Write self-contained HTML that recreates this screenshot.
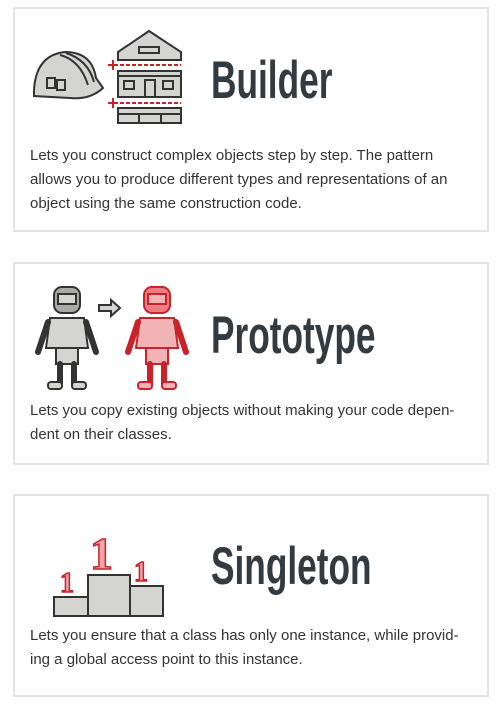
<!DOCTYPE html>
<html><head><meta charset="utf-8"><style>
body{margin:0;width:500px;height:703px;background:#fff;position:relative;overflow:hidden;font-family:"Liberation Sans",sans-serif}
.card{position:absolute;left:13px;width:472px;border:2px solid #e3e3e3;background:#fff}
.t{position:absolute;left:211px;font-weight:bold;font-size:53px;color:#333a40;transform:scaleX(0.665);transform-origin:0 0;line-height:53px;white-space:nowrap}
.p{position:absolute;left:30px;font-size:15px;color:#333;line-height:24px;white-space:nowrap}
svg{position:absolute;left:0;top:0}
</style></head><body>
<div class="card" style="top:7px;height:221px"></div>
<div class="card" style="top:262px;height:199px"></div>
<div class="card" style="top:494px;height:199px"></div>

<svg width="500" height="703" stroke="#333" stroke-width="2" fill="#d4d5d0">
<!-- helmet -->
<path d="M34 90 Q36 55 65 52 Q92 52 96 78 L103 88 Q90 100 70 98 L34 96 Z"/>
<path d="M60 55 Q80 60 88 85" fill="none"/><path d="M66 53 Q88 60 94 82" fill="none"/>
<rect x="47" y="78" width="8" height="10" fill="none"/><rect x="57" y="80" width="8" height="10" fill="none"/>
<!-- house -->
<path d="M118 52 L149 31 L181 52 L181 60 L118 60 Z"/>
<rect x="139" y="47" width="20" height="6" fill="none"/>
<line x1="120" y1="65" x2="181" y2="65" stroke="#c8222b" stroke-dasharray="4,2"/>
<rect x="118" y="71" width="63" height="26"/>
<line x1="118" y1="76" x2="181" y2="76"/>
<rect x="124" y="81" width="10" height="8" fill="none"/><rect x="163" y="81" width="10" height="8" fill="none"/>
<rect x="145" y="80" width="10" height="17" fill="none"/>
<line x1="120" y1="103" x2="181" y2="103" stroke="#c8222b" stroke-dasharray="4,2"/>
<path d="M108 65 h10 M113 60 v10 M108 103 h10 M113 98 v10" stroke="#c8222b"/>
<rect x="118" y="108" width="63" height="15"/><line x1="118" y1="114" x2="181" y2="114"/>
<rect x="139" y="114" width="22" height="9" fill="none"/>
<!-- robots -->
<g>
<rect x="54" y="287" width="26" height="26" rx="8" fill="#a8aaa6"/><rect x="58" y="294" width="18" height="10" fill="#d4d5d0"/>
<path d="M50 318 h34 l4 30 h-42 z"/><rect x="56" y="348" width="22" height="16"/>
<path d="M48 322 l-10 30 M86 322 l10 30" stroke-width="6" stroke-linecap="round"/>
<path d="M60 364 v22 M74 364 v22" stroke-width="6" stroke-linecap="round"/>
<rect x="48" y="382" width="14" height="7" rx="3"/><rect x="72" y="382" width="14" height="7" rx="3"/>
</g>
<path d="M99 305 h12 v-5 l9 8 -9 8 v-5 h-12 z"/>
<g stroke="#c8222b" fill="#f2b3b6">
<rect x="144" y="287" width="26" height="26" rx="8" fill="#ec7d83"/><rect x="148" y="294" width="18" height="10"/>
<path d="M140 318 h34 l4 30 h-42 z"/><rect x="146" y="348" width="22" height="16"/>
<path d="M138 322 l-10 30 M176 322 l10 30" stroke-width="6" stroke-linecap="round"/>
<path d="M150 364 v22 M164 364 v22" stroke-width="6" stroke-linecap="round"/>
<rect x="138" y="382" width="14" height="7" rx="3"/><rect x="162" y="382" width="14" height="7" rx="3"/>
</g>
<!-- podium -->
<rect x="54" y="597" width="34" height="19"/><rect x="88" y="575" width="42" height="41"/><rect x="130" y="586" width="33" height="30"/>
<g stroke="#c8222b" fill="#f2a5a9" font-family="Liberation Serif,serif" font-weight="bold" stroke-width="1.5">
<text x="60" y="592" font-size="28">1</text><text x="90" y="569" font-size="46">1</text><text x="134" y="581" font-size="28">1</text>
</g>
</svg>

<div class="t" style="top:54px">Builder</div>
<div class="t" style="top:309px">Prototype</div>
<div class="t" style="top:540px">Singleton</div>

<div class="p" style="top:144px">Lets you construct complex objects step by step. The pattern<br>allows you to produce different types and representations of an<br>object using the same construction code.</div>
<div class="p" style="top:399px">Lets you copy existing objects without making your code depen-<br>dent on their classes.</div>
<div class="p" style="top:624px">Lets you ensure that a class has only one instance, while provid-<br>ing a global access point to this instance.</div>
</body></html>
